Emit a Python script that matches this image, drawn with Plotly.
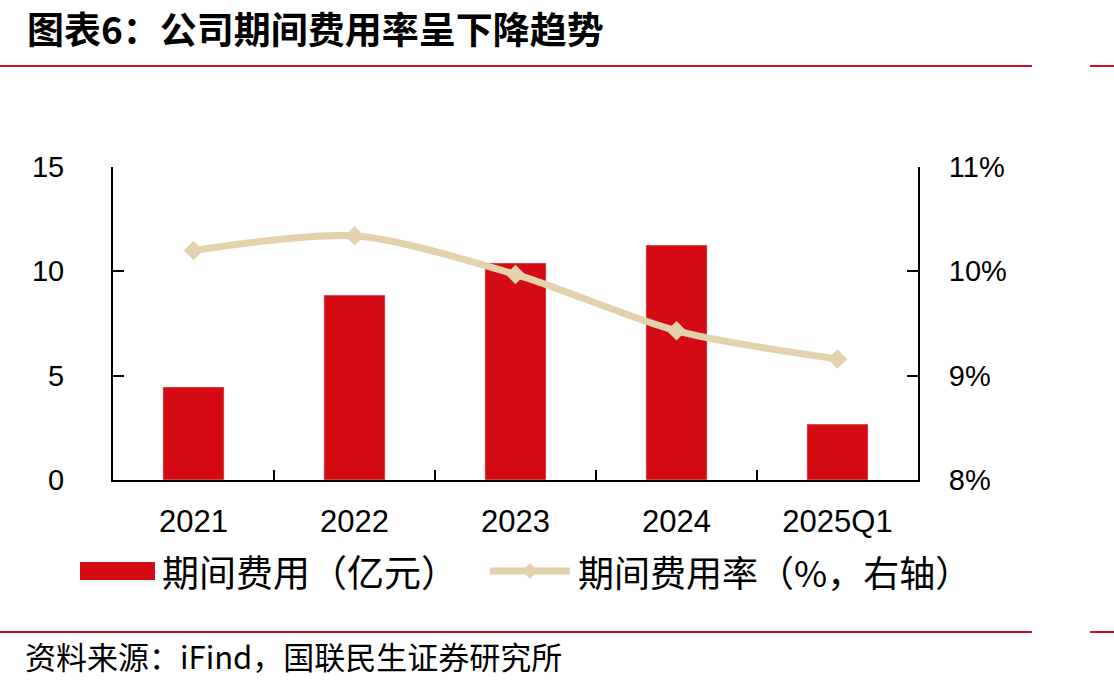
import plotly.graph_objects as go

categories = ["2021", "2022", "2023", "2024", "2025Q1"]
expense = [4.46, 8.86, 10.4, 11.26, 2.68]          # 期间费用（亿元）
expense_rate = [10.20, 10.34, 9.97, 9.43, 9.16]    # 期间费用率（%）
left_ticks = [0, 5, 10, 15]
right_ticks = [8, 9, 10, 11]
right_labels = ["8%", "9%", "10%", "11%"]

W, H = 1114, 684
L, R, T, B = 113, 918, 167, 480
RED = "#D40B12"
TAN = "#E3D2AC"
CJK = "Noto Sans CJK SC"
NUM = "Liberation Sans"

def px(x):
    return (x - L) / (R - L)

def py(y):
    return (B - y) / (B - T)

fig = go.Figure()
fig.add_trace(go.Bar(x=categories, y=expense, marker_color=RED, width=0.38,
                     name="期间费用（亿元）", showlegend=False, yaxis="y"))
fig.add_trace(go.Scatter(x=categories, y=expense_rate, mode="lines+markers",
                         line=dict(color=TAN, width=7, shape="spline", smoothing=0.8),
                         marker=dict(symbol="diamond", size=15, color=TAN),
                         name="期间费用率（%，右轴）", showlegend=False, yaxis="y2"))

fig.update_layout(
    width=W, height=H,
    margin=dict(l=L, r=W - R, t=T, b=H - B),
    paper_bgcolor="white", plot_bgcolor="white",
    xaxis=dict(range=[-0.5, 4.5], showline=True, linecolor="black", linewidth=2,
               ticks="inside", ticklen=10, tickwidth=2, tickcolor="black",
               tickson="boundaries", showgrid=False,
               tickfont=dict(family=NUM, size=31, color="black"),
               ticklabelstandoff=13),
    yaxis=dict(range=[0, 15], tickvals=left_ticks, showline=True, linecolor="black",
               linewidth=2, ticks="inside", ticklen=11, tickwidth=2, tickcolor="black",
               showgrid=False, zeroline=False,
               tickfont=dict(family=NUM, size=29, color="black"), ticklabelstandoff=41),
    yaxis2=dict(range=[8, 11], tickvals=right_ticks, ticktext=right_labels,
                overlaying="y", side="right", showline=True, linecolor="black",
                linewidth=2, ticks="inside", ticklen=11, tickwidth=2, tickcolor="black",
                showgrid=False, zeroline=False,
                tickfont=dict(family=NUM, size=29, color="black"), ticklabelstandoff=23),
    bargap=0.62,
)

shapes = []
# header / footer rules
for yy in (66, 632):
    shapes.append(dict(type="line", xref="paper", yref="paper", x0=px(0), x1=px(1032),
                       y0=py(yy), y1=py(yy), line=dict(color="#C8102E", width=2)))
    shapes.append(dict(type="line", xref="paper", yref="paper", x0=px(1090), x1=px(1114),
                       y0=py(yy), y1=py(yy), line=dict(color="#C8102E", width=2)))
# legend symbols
shapes.append(dict(type="rect", xref="paper", yref="paper", x0=px(80), x1=px(155),
                   y0=py(580), y1=py(562), fillcolor=RED, line=dict(width=0)))
shapes.append(dict(type="line", xref="paper", yref="paper", x0=px(490), x1=px(570),
                   y0=py(571), y1=py(571), line=dict(color=TAN, width=7)))
shapes.append(dict(type="path", xref="paper", yref="paper",
                   path=f"M {px(522)} {py(571)} L {px(530)} {py(563)} L {px(538)} {py(571)} L {px(530)} {py(579)} Z",
                   fillcolor=TAN, line=dict(width=0)))
fig.update_layout(shapes=shapes)

ann = [
    dict(text="<b>图表6：公司期间费用率呈下降趋势</b>", x=px(25), y=py(28), xanchor="left",
         yanchor="middle", font=dict(family=CJK, size=37, color="black")),
    dict(text="期间费用（亿元）", x=px(160), y=py(571), xanchor="left", yanchor="middle",
         font=dict(family=CJK, size=37, color="black")),
    dict(text="期间费用率（%，右轴）", x=px(576), y=py(571), xanchor="left", yanchor="middle",
         font=dict(family=CJK, size=36, color="black")),
    dict(text="资料来源：iFind，国联民生证券研究所", x=px(23), y=py(655), xanchor="left",
         yanchor="middle", font=dict(family=CJK, size=31, color="black")),
]
for a in ann:
    a.update(xref="paper", yref="paper", showarrow=False)
fig.update_layout(annotations=ann)

fig.write_html("out.html")
